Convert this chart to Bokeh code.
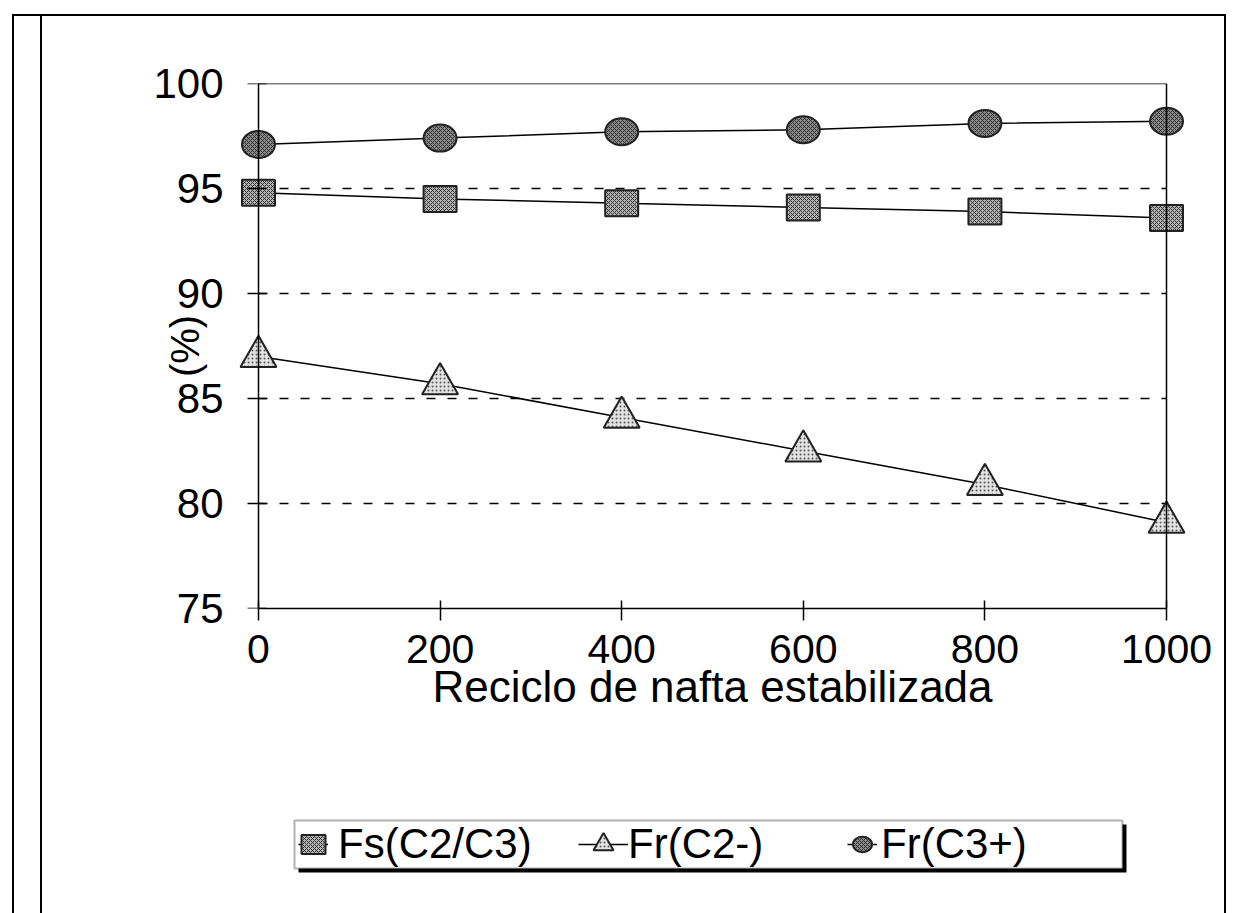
from bokeh.plotting import figure
from bokeh.layouts import column
from bokeh.models import (LinearAxis, FixedTicker, Legend, LegendItem, Range1d, BoxAnnotation)
from bokeh.embed import file_html
from bokeh.resources import INLINE

# ---- data ----
reciclo = [0, 200, 400, 600, 800, 1000]
fs_c2c3 = [94.8, 94.5, 94.3, 94.1, 93.9, 93.6]
fr_c2m = [87.0, 85.7, 84.1, 82.5, 80.9, 79.1]
fr_c3p = [97.1, 97.4, 97.7, 97.8, 98.1, 98.2]
x_ticks = [0, 200, 400, 600, 800, 1000]
y_ticks = [75, 80, 85, 90, 95, 100]
grid_ticks = [80, 85, 90, 95]
labels = ["Fs(C2/C3)", "Fr(C2-)", "Fr(C3+)"]
x_title = "Reciclo de nafta estabilizada"
y_title = "(%)"

FONT = "Liberation Sans"
pad = 24.2

SQ = dict(fill_color="#b4b4b4", line_color="#222222", line_width=2,
          hatch_pattern="diagonal_cross", hatch_scale=4, hatch_color="#333333", hatch_weight=1)
TR = dict(fill_color="#e2e2e2", line_color="#222222", line_width=2,
          hatch_pattern="dot", hatch_scale=4, hatch_color="#555555", hatch_weight=1)
CI = dict(fill_color="#8a8a8a", line_color="#222222", line_width=2,
          hatch_pattern="diagonal_cross", hatch_scale=4, hatch_color="#333333", hatch_weight=1)

p = figure(width=1184, height=774, output_backend="svg", toolbar_location=None,
           x_range=Range1d(x_ticks[0] - pad, x_ticks[-1] + pad),
           y_range=Range1d(y_ticks[0], y_ticks[-1]),
           min_border_left=194, min_border_right=38, min_border_top=67, min_border_bottom=182)
p.outline_line_color = None
p.background_fill_color = "white"
p.border_fill_color = "white"

# x axis
xa = p.xaxis[0]
xa.ticker = FixedTicker(ticks=x_ticks)
xa.bounds = (x_ticks[0], x_ticks[-1])
xa.axis_label = x_title
xa.axis_label_text_font = FONT
xa.axis_label_text_font_size = "44px"
xa.axis_label_text_font_style = "normal"
xa.axis_label_text_color = "black"
xa.axis_label_standoff = -4
xa.major_label_text_font = FONT
xa.major_label_text_font_size = "41px"
xa.major_label_text_color = "black"
xa.major_label_standoff = 14
xa.major_tick_in = 8
xa.major_tick_out = 12
xa.minor_tick_line_color = None
xa.axis_line_width = 1.5
xa.major_tick_line_width = 1.5

# y axis line + ticks at x = 0
ya = p.yaxis[0]
ya.fixed_location = x_ticks[0]
ya.ticker = FixedTicker(ticks=y_ticks)
ya.major_label_text_color = None
ya.major_tick_in = 8
ya.major_tick_out = 11
ya.minor_tick_line_color = None
ya.axis_line_width = 1.5
ya.major_tick_line_width = 1.5

# y labels (outside the frame)
yl = LinearAxis(ticker=FixedTicker(ticks=y_ticks), axis_line_color=None,
                major_tick_line_color=None, minor_tick_line_color=None,
                major_tick_out=0, major_tick_in=0,
                major_label_text_font=FONT, major_label_text_font_size="42px",
                major_label_text_color="black", major_label_standoff=13,
                axis_label=y_title, axis_label_text_font=FONT,
                axis_label_text_font_size="40px", axis_label_text_font_style="normal",
                axis_label_text_color="black", axis_label_standoff=-57)
p.add_layout(yl, "left")

# top and right frame lines
top = LinearAxis(fixed_location=y_ticks[-1], bounds=(x_ticks[0], x_ticks[-1]),
                 ticker=FixedTicker(ticks=[]), major_tick_line_color=None,
                 minor_tick_line_color=None, major_label_text_color=None, axis_line_width=1.5)
right = LinearAxis(fixed_location=x_ticks[-1], bounds=(y_ticks[0], y_ticks[-1]),
                   ticker=FixedTicker(ticks=[]), major_tick_line_color=None,
                   minor_tick_line_color=None, major_label_text_color=None, axis_line_width=1.5)
p.add_layout(top, "above")
p.add_layout(right, "right")

# grid
p.xgrid.visible = False
g = p.ygrid[0]
g.ticker = FixedTicker(ticks=grid_ticks)
g.grid_line_color = "black"
g.grid_line_width = 1.3
g.grid_line_dash = "9 12"
try:
    g.cross_bounds = (x_ticks[0], x_ticks[-1])
except Exception:
    pass

# series
p.line(reciclo, fs_c2c3, line_color="black", line_width=1.5)
p.rect(reciclo, fs_c2c3, width=33, height=26, width_units="screen", height_units="screen", **SQ)
p.line(reciclo, fr_c2m, line_color="black", line_width=1.5)
p.scatter(reciclo, fr_c2m, marker="triangle", size=36, **TR)
p.line(reciclo, fr_c3p, line_color="black", line_width=1.5)
p.ellipse(reciclo, fr_c3p, width=33, height=27, width_units="screen", height_units="screen", **CI)

# ---- legend strip (separate canvas below the chart; its data lies out of view) ----
q = figure(width=1184, height=123, output_backend="svg", toolbar_location=None,
           x_axis_location=None, y_axis_location=None,
           x_range=Range1d(x_ticks[0] - pad, x_ticks[-1] + pad),
           y_range=Range1d(0, 1),
           min_border=0, min_border_left=0, min_border_right=0,
           min_border_top=0, min_border_bottom=0)
q.outline_line_color = None
q.xgrid.visible = False
q.ygrid.visible = False
q.border_fill_color = "white"

k1 = q.line(reciclo, fs_c2c3, line_color="black", line_width=1.5)
r1 = q.rect(reciclo, fs_c2c3, width=30, height=24, width_units="screen", height_units="screen", **SQ)
k2 = q.line(reciclo, fr_c2m, line_color="black", line_width=1.5)
r2 = q.scatter(reciclo, fr_c2m, marker="triangle", size=30, **TR)
k3 = q.line(reciclo, fr_c3p, line_color="black", line_width=1.5)
r3 = q.ellipse(reciclo, fr_c3p, width=30, height=24, width_units="screen", height_units="screen", **CI)

box_kw = dict(left_units="canvas", right_units="canvas", top_units="canvas", bottom_units="canvas")
shadow = BoxAnnotation(left=254, right=1082, top=34, bottom=82,
                       fill_color="black", fill_alpha=1.0, line_color=None, **box_kw)
box = BoxAnnotation(left=250, right=1078, top=30, bottom=78,
                    fill_color="white", fill_alpha=1.0, line_color="black", line_width=2, **box_kw)
q.add_layout(shadow)
q.add_layout(box)

LEG = dict(orientation="horizontal", click_policy="none",
           label_text_font=FONT, label_text_font_size="42px", label_text_color="black",
           spacing=0, padding=0, margin=0, border_line_color=None,
           background_fill_alpha=0.0)
leg_a = Legend(items=[LegendItem(label=labels[0], renderers=[k1, r1])],
               location=(62, 45), glyph_width=30, glyph_height=24, label_standoff=10, **LEG)
leg_b = Legend(items=[LegendItem(label=labels[1], renderers=[k2, r2])],
               location=(342, 41), glyph_width=50, glyph_height=56, label_standoff=0, **LEG)
leg_c = Legend(items=[LegendItem(label=labels[2], renderers=[k3, r3])],
               location=(611, 45), glyph_width=30, glyph_height=24, label_standoff=4, **LEG)
q.add_layout(leg_a, "center")
q.add_layout(leg_b, "center")
q.add_layout(leg_c, "center")

layout = column(p, q, spacing=0,
                styles={"margin-left": "12px", "margin-top": "14px",
                        "border-left": "2px solid black", "border-top": "2px solid black",
                        "border-right": "2px solid black", "padding-left": "26px"})
p.styles = {"border-left": "2px solid black"}
q.styles = {"border-left": "2px solid black"}

open("out.html", "w").write(file_html(layout, INLINE))
